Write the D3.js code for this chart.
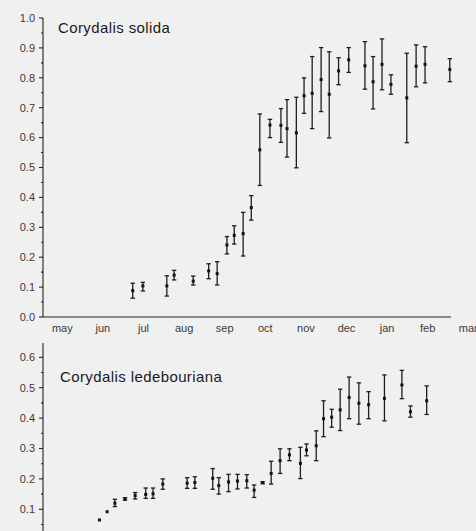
<!DOCTYPE html>
<meta charset="utf-8">
<style>
body { margin: 0; background: #f0f0f0; }
svg { display: block; font-family: "Liberation Sans", Arial, sans-serif; }
.tick-label { font-size: 11px; fill: #3a3a3a; }
.month-label { font-size: 11px; fill: #3a3a3a; text-anchor: middle; }
.title { font-size: 15px; fill: #1a1a1a; letter-spacing: 0.4px; }
.axis-line { stroke: #222; stroke-width: 1.1; }
.bar { stroke: #1e1e1e; stroke-width: 1.3; }
</style>
<svg width="476" height="531"></svg>
<script src="https://d3js.org/d3.v7.min.js"></script>
<script>

// months on the x axis, 0 = start of may
var monthNames = ["may", "jun", "jul", "aug", "sep", "oct", "nov", "dec", "jan", "feb", "mar"];

// Corydalis solida
var solidaMonth = [2.21,2.46,3.05,3.23,3.70,4.08,4.29,4.53,4.71,4.93,5.13,5.34,5.59,5.86,6.01,6.24,6.43,6.63,6.85,7.05,7.28,7.53,7.93,8.13,8.35,8.57,8.96,9.19,9.41,10.02];
var solidaMean  = [0.088,0.104,0.104,0.140,0.120,0.154,0.145,0.241,0.273,0.279,0.366,0.559,0.642,0.641,0.630,0.616,0.740,0.748,0.794,0.745,0.823,0.860,0.840,0.787,0.845,0.778,0.733,0.839,0.845,0.828];
var solidaLow   = [0.063,0.087,0.070,0.124,0.107,0.128,0.107,0.211,0.244,0.204,0.324,0.440,0.600,0.584,0.535,0.499,0.681,0.630,0.687,0.599,0.777,0.818,0.762,0.696,0.760,0.745,0.583,0.770,0.783,0.787];
var solidaHigh  = [0.113,0.116,0.138,0.156,0.137,0.178,0.185,0.269,0.305,0.350,0.406,0.679,0.661,0.697,0.727,0.735,0.800,0.871,0.901,0.887,0.867,0.901,0.921,0.871,0.930,0.810,0.882,0.910,0.904,0.864];

// Corydalis ledebouriana
var ledebMonth = [1.39,1.58,1.77,2.02,2.27,2.53,2.71,2.95,3.55,3.74,4.18,4.33,4.57,4.79,5.02,5.20,5.41,5.62,5.84,6.07,6.34,6.49,6.73,6.91,7.11,7.32,7.54,7.78,8.02,8.41,8.84,9.05,9.45];
var ledebMean  = [0.065,0.092,0.120,0.134,0.145,0.149,0.151,0.183,0.186,0.188,0.202,0.178,0.190,0.193,0.194,0.163,0.188,0.218,0.260,0.279,0.251,0.295,0.309,0.398,0.403,0.427,0.468,0.449,0.444,0.465,0.509,0.421,0.457];
var ledebLow   = [0.065,0.092,0.109,0.130,0.134,0.136,0.136,0.166,0.169,0.169,0.166,0.150,0.158,0.167,0.170,0.139,0.184,0.183,0.218,0.260,0.201,0.276,0.260,0.339,0.370,0.359,0.398,0.380,0.398,0.391,0.464,0.403,0.412];
var ledebHigh  = [0.065,0.092,0.133,0.138,0.155,0.170,0.170,0.200,0.204,0.207,0.234,0.204,0.215,0.215,0.214,0.180,0.191,0.258,0.299,0.299,0.304,0.315,0.358,0.457,0.429,0.495,0.535,0.516,0.487,0.542,0.557,0.440,0.506];

var svg = d3.select("svg");

svg.append("rect")
    .attr("width", 476).attr("height", 531)
    .attr("fill", "#f0f0f0");

var x = d3.scaleLinear().domain([0, 10]).range([43, 449]);

function panel(opts) {
  var y = d3.scaleLinear().domain([0, 1]).range(opts.yRange);
  var g = svg.append("g");

  // y axis line
  g.append("line").attr("class", "axis-line")
      .attr("x1", 43).attr("x2", 43)
      .attr("y1", y(opts.yTop)).attr("y2", y(0));

  // major ticks and labels
  var major = d3.range(0, opts.yTop + 0.001, 0.1).filter(function(v) { return v >= opts.yMinLabel - 0.001; });
  g.selectAll(".major").data(major).enter().append("line")
      .attr("class", "axis-line")
      .attr("x1", 39).attr("x2", 43)
      .attr("y1", function(d) { return y(d); }).attr("y2", function(d) { return y(d); });
  g.selectAll(".tick-label").data(major).enter().append("text")
      .attr("class", "tick-label")
      .attr("x", 35).attr("y", function(d) { return y(d); })
      .attr("dy", "0.35em").attr("text-anchor", "end")
      .text(function(d) { return d3.format(".1f")(d); });

  // minor ticks
  var minor = d3.range(0.05, opts.yTop + 0.001, 0.1);
  g.selectAll(".minor").data(minor).enter().append("line")
      .attr("class", "axis-line")
      .attr("x1", 41).attr("x2", 43)
      .attr("y1", function(d) { return y(d); }).attr("y2", function(d) { return y(d); });

  if (opts.xAxis) {
    g.append("line").attr("class", "axis-line")
        .attr("x1", 43).attr("x2", 451)
        .attr("y1", y(0)).attr("y2", y(0));
    g.selectAll(".month-label").data(monthNames).enter().append("text")
        .attr("class", "month-label")
        .attr("x", function(d, i) { return x(i + 0.5) - 1; })
        .attr("y", y(0) + 15)
        .text(function(d) { return d; });
  }

  g.append("text").attr("class", "title")
      .attr("x", opts.titleX).attr("y", opts.titleY)
      .text(opts.title);

  var pts = opts.month.map(function(m, i) {
    return {m: m, mean: opts.mean[i], low: opts.low[i], high: opts.high[i]};
  });

  var bars = g.selectAll(".pt").data(pts).enter().append("g");
  bars.filter(function(d) { return d.high - d.low > 0.005; })
    .each(function(d) {
      var s = d3.select(this), cx = x(d.m);
      s.append("line").attr("class", "bar")
          .attr("x1", cx).attr("x2", cx).attr("y1", y(d.high)).attr("y2", y(d.low));
      s.append("line").attr("class", "bar")
          .attr("x1", cx - 2.2).attr("x2", cx + 2.2).attr("y1", y(d.high)).attr("y2", y(d.high));
      s.append("line").attr("class", "bar")
          .attr("x1", cx - 2.2).attr("x2", cx + 2.2).attr("y1", y(d.low)).attr("y2", y(d.low));
    });
  bars.append("rect")
      .attr("x", function(d) { return x(d.m) - 1.5; })
      .attr("y", function(d) { return y(d.mean) - 1.5; })
      .attr("width", 3).attr("height", 3)
      .attr("fill", "#111");
}

panel({
  title: "Corydalis solida", titleX: 58, titleY: 33,
  yRange: [317, 18], yTop: 1.0, yMinLabel: 0, xAxis: true,
  month: solidaMonth, mean: solidaMean, low: solidaLow, high: solidaHigh
});

panel({
  title: "Corydalis ledebouriana", titleX: 60, titleY: 382,
  yRange: [539.7, 235.7], yTop: 0.647, yMinLabel: 0.1, xAxis: false,
  month: ledebMonth, mean: ledebMean, low: ledebLow, high: ledebHigh
});

</script>
